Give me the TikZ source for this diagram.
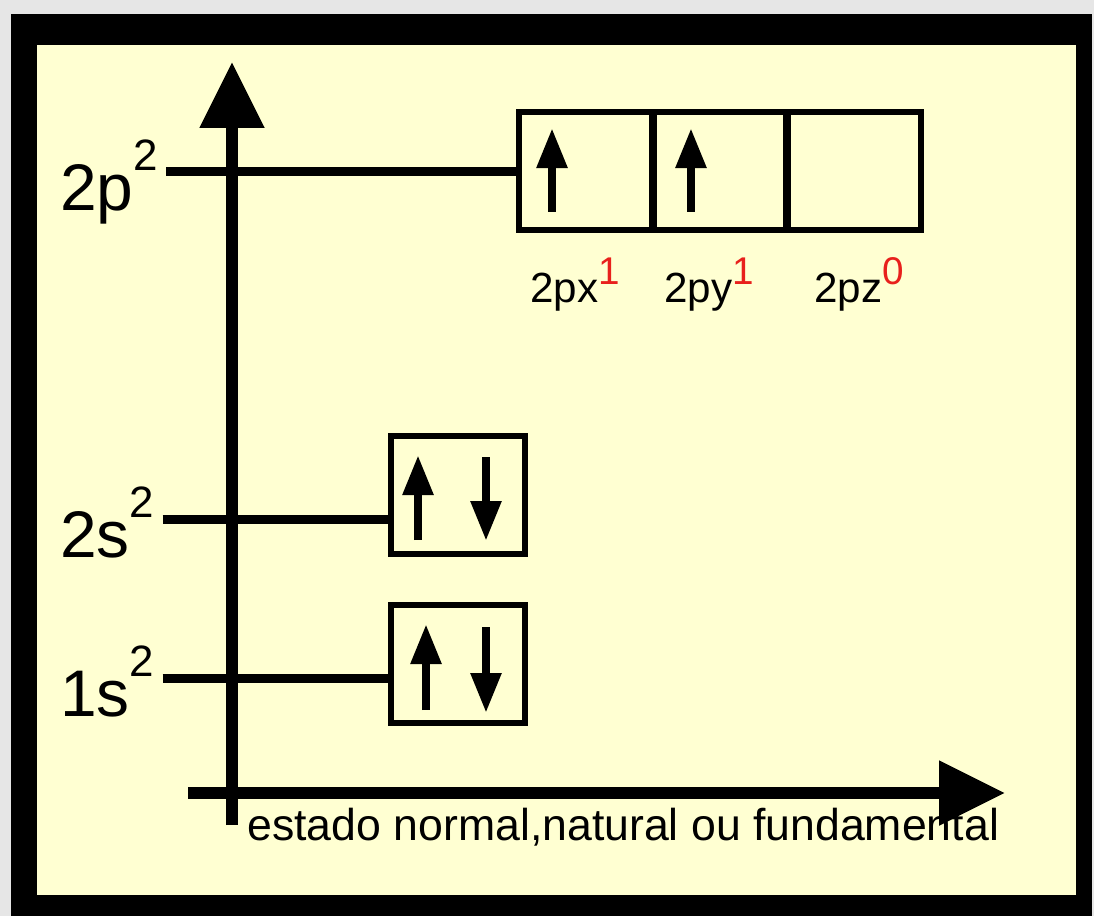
\documentclass[tikz,border=0pt]{standalone}
\usepackage{fontspec}
\setmainfont{Liberation Sans}
\usepackage{xcolor}
\definecolor{paper}{HTML}{FFFFD2}
\definecolor{backgray}{HTML}{E6E6E6}
\definecolor{supred}{HTML}{E8201C}
\usetikzlibrary{arrows.meta,positioning,calc}
\newcommand{\orbsup}[1]{\raisebox{0.8cm}{\fontsize{25}{25}\selectfont #1}}
\newcommand{\redsup}[1]{\raisebox{0.36cm}{\fontsize{22}{22}\selectfont\color{supred}#1}}
\tikzset{
  orb/.style={rectangle, draw=black, line width=0.13cm, minimum width=2.68cm,
              minimum height=2.36cm, inner sep=0pt, outer sep=0pt},
  tlab/.style={anchor=base west, inner xsep=0.16cm, inner ysep=0pt,
               font=\fontsize{37.5}{38}\selectfont},
  tsub/.style={anchor=base, inner sep=0pt, font=\fontsize{24}{24}\selectfont},
  lvl/.style={line width=0.18cm},
  divider/.style={line width=0.17cm},
  espin/.style={-{Triangle[width=0.58cm,length=0.8cm]}, line width=0.17cm},
  taxis/.style={-{Triangle[width=1.24cm,length=1.32cm]}, line width=0.24cm},
}
\begin{document}
\begin{tikzpicture}[x=0.02cm, y=-0.02cm]
  \useasboundingbox (0,0) rectangle (1094,916);
  % frame
  \fill[backgray] (0,0) rectangle (1094,916);
  \fill[black] (11,14) rectangle (1092,916);
  \fill[paper] (37,45) rectangle (1076,895);

  % axes
  \coordinate (yfoot) at (232,825);
  \coordinate (ytip)  at (232,62);
  \coordinate (xfoot) at (188,793);
  \coordinate (xtip)  at (1005,793);
  \draw[taxis] (yfoot) -- (ytip);
  \draw[taxis] (xfoot) -- (xtip);

  % orbital boxes
  \node[orb] (px) at (586,171) {};
  \node[orb, right=0pt of px] (py) {};
  \node[orb, right=0pt of py] (pz) {};
  \draw[divider] (px.north east) -- (px.south east);
  \draw[divider] (py.north east) -- (py.south east);
  \node[orb] (s2) at (458,495) {};
  \node[orb] (s1) at (458,664) {};

  % level labels
  \node[tlab] (l2p) at (52,210) {2p\orbsup{2}};
  \node[tlab] (l2s) at (52,557) {2s\orbsup{2}};
  \node[tlab] (l1s) at (52,716) {1s\orbsup{2}};

  \coordinate (e2s) at ([yshift=-0.48cm]s2.west);
  \coordinate (e1s) at ([yshift=-0.28cm]s1.west);
  \draw[lvl] (l2p.east |- px.west) -- (px.west);
  \draw[lvl] (l2s.east |- e2s) -- (e2s);
  \draw[lvl] (l1s.east |- e1s) -- (e1s);

  % electrons
  \draw[espin] ([xshift=-0.68cm,yshift=-0.82cm]px.center) -- ([xshift=-0.68cm,yshift=0.86cm]px.center);
  \draw[espin] ([xshift=-0.58cm,yshift=-0.82cm]py.center) -- ([xshift=-0.58cm,yshift=0.86cm]py.center);
  \draw[espin] ([xshift=-0.8cm,yshift=-0.9cm]s2.center)  -- ([xshift=-0.8cm,yshift=0.8cm]s2.center);
  \draw[espin] ([xshift=0.56cm,yshift=0.76cm]s2.center)  -- ([xshift=0.56cm,yshift=-0.92cm]s2.center);
  \draw[espin] ([xshift=-0.64cm,yshift=-0.92cm]s1.center) -- ([xshift=-0.64cm,yshift=0.8cm]s1.center);
  \draw[espin] ([xshift=0.56cm,yshift=0.74cm]s1.center)  -- ([xshift=0.56cm,yshift=-0.98cm]s1.center);

  % sublevel labels
  \node[tsub] (spx) at ([xshift=-0.22cm,yshift=-1.46cm]px.south) {2px\redsup{1}};
  \node[tsub] (spy) at ([xshift=-0.22cm,yshift=-1.46cm]py.south) {2py\redsup{1}};
  \node[tsub] (spz) at ([xshift=0.1cm,yshift=-1.46cm]pz.south)   {2pz\redsup{0}};

  \node[anchor=base west, inner sep=0pt, font=\fontsize{25.4}{26}\selectfont]
    (estado) at (247,840) {estado normal,natural ou fundamental};
\end{tikzpicture}
\end{document}
